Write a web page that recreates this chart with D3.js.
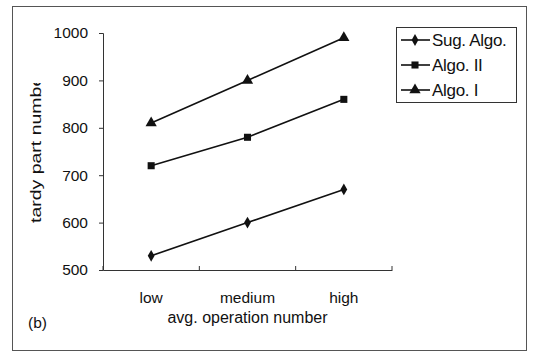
<!DOCTYPE html>
<html>
<head>
<meta charset="utf-8">
<script src="https://cdn.jsdelivr.net/npm/d3@7"></script>
<style>
  html, body { margin: 0; padding: 0; background: #fff; }
  svg { display: block; font-family: "Liberation Sans", Arial, sans-serif; }
</style>
</head>
<body>
<svg id="chart" width="534" height="351"></svg>
<script>
// data
const categories = ['low', 'medium', 'high'];
const sugAlgo = [530, 600, 670];
const algoII = [720, 780, 860];
const algoI = [810, 900, 990];
const yTicks = [500, 600, 700, 800, 900, 1000];
const seriesNames = ['Sug. Algo.', 'Algo. II', 'Algo. I'];
const seriesValues = [sugAlgo, algoII, algoI];
const seriesMarks = ['diamond', 'square', 'triangle'];

const svg = d3.select('#chart');
const ink = '#111';

// outer frame of the scanned figure
svg.append('rect')
  .attr('x', 12.5).attr('y', 6.5)
  .attr('width', 514).attr('height', 344)
  .attr('fill', 'none').attr('stroke', '#555').attr('stroke-width', 1);

const plot = { left: 103, right: 392, top: 33, bottom: 270 };

const x = d3.scaleBand()
  .domain(categories)
  .range([plot.left, plot.right]);

const y = d3.scaleLinear()
  .domain([500, 1000])
  .range([plot.bottom, plot.top]);

// y axis
const yAxis = svg.append('g')
  .attr('transform', `translate(${plot.left},0)`)
  .call(d3.axisLeft(y).tickValues(yTicks).tickSize(4).tickPadding(11).tickFormat(d3.format('d')));
yAxis.selectAll('path, line').attr('stroke', '#333');
yAxis.selectAll('text').attr('font-size', 15.5).attr('fill', ink).attr('font-family', null);

// x axis: ticks sit on band boundaries, pointing up
const xAxis = svg.append('g')
  .attr('transform', `translate(0,${plot.bottom})`)
  .call(d3.axisBottom(x).tickSize(0).tickPadding(22));
xAxis.select('.domain').attr('stroke', '#333');
xAxis.selectAll('text').attr('font-size', 15.5).attr('fill', ink).attr('font-family', null);

const boundaries = categories.map(c => x(c)).concat([x.range()[1]]);
svg.append('g').selectAll('line')
  .data(boundaries)
  .join('line')
  .attr('x1', d => d).attr('x2', d => d)
  .attr('y1', plot.bottom).attr('y2', plot.bottom - 4)
  .attr('stroke', '#333');

// axis titles (the y title is cut off in the source figure)
svg.append('defs').append('clipPath').attr('id', 'ylabclip')
  .append('rect').attr('x', 0).attr('y', 83).attr('width', 80).attr('height', 200);

svg.append('g')
  .attr('clip-path', 'url(#ylabclip)')
  .append('text')
  .attr('transform', 'translate(41,223) rotate(-90) scale(1.3,1)')
  .attr('font-size', 15).attr('fill', ink)
  .text('tardy part number');

svg.append('text')
  .attr('x', (plot.left + plot.right) / 2).attr('y', 323)
  .attr('text-anchor', 'middle')
  .attr('font-size', 16).attr('fill', ink)
  .text('avg. operation number');

svg.append('text')
  .attr('x', 28).attr('y', 328)
  .attr('font-size', 15.5).attr('fill', ink)
  .text('(b)');

// markers
function markerPath(kind) {
  if (kind === 'diamond') return d3.symbol(d3.symbolDiamond, 40)();
  if (kind === 'square') return d3.symbol(d3.symbolSquare, 50)();
  return d3.symbol(d3.symbolTriangle, 55)();
}

const line = d3.line()
  .x((d, i) => x(categories[i]) + x.bandwidth() / 2)
  .y(d => y(d));

seriesValues.forEach((vals, s) => {
  const g = svg.append('g');
  g.append('path')
    .attr('d', line(vals))
    .attr('fill', 'none').attr('stroke', ink).attr('stroke-width', 1.6);
  g.selectAll('path.mark')
    .data(vals)
    .join('path')
    .attr('class', 'mark')
    .attr('transform', (d, i) => `translate(${x(categories[i]) + x.bandwidth() / 2},${y(d)})`)
    .attr('d', markerPath(seriesMarks[s]))
    .attr('fill', ink);
});

// legend
const legend = svg.append('g');
legend.append('rect')
  .attr('x', 396.5).attr('y', 27.5)
  .attr('width', 120).attr('height', 75)
  .attr('fill', '#fff').attr('stroke', '#333').attr('stroke-width', 1);

const legendY = d3.scalePoint()
  .domain(seriesNames)
  .range([40, 90]);

seriesNames.forEach((name, s) => {
  const cy = legendY(name);
  legend.append('line')
    .attr('x1', 401).attr('x2', 430)
    .attr('y1', cy).attr('y2', cy)
    .attr('stroke', ink).attr('stroke-width', 1.6);
  legend.append('path')
    .attr('transform', `translate(415,${cy})`)
    .attr('d', markerPath(seriesMarks[s]))
    .attr('fill', ink);
  legend.append('text')
    .attr('x', 432).attr('y', cy + 6)
    .attr('font-size', 17).attr('fill', ink)
    .attr('letter-spacing', -0.3)
    .text(name);
});
</script>
</body>
</html>
